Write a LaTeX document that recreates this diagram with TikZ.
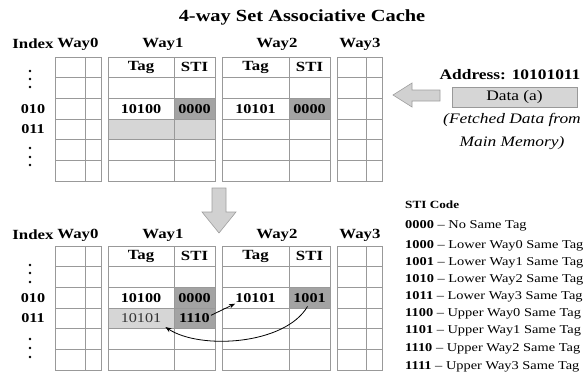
\documentclass[tikz,border=0pt]{standalone}
\usepackage{fontspec}
\setmainfont[FakeStretch=1.2]{Liberation Serif}
\usetikzlibrary{arrows.meta,calc}

% one way of the cache: a framed two-column block with six rows
\newcommand{\waybox}[4]{% left x, divider x, right x, top y
  \draw[gridline] (#1,#4) rectangle (#3,#4+124);
  \foreach \r in {1,...,5}
    \draw[gridline] (#1,#4+\r*20.667) -- (#3,#4+\r*20.667);
  \draw[gridline] (#2,#4) -- (#2,#4+124);
}
% the four ways side by side
\newcommand{\cacheset}[1]{%
  \waybox{55}{85}{101}{#1}
  \waybox{108}{174}{215}{#1}
  \waybox{222}{289}{330}{#1}
  \waybox{337}{366}{382}{#1}
}
% a column of three dots
\newcommand{\dotcol}[3]{%
  \fill (30,#1) circle (1.3);
  \fill (30,#2) circle (1.3);
  \fill (30,#3) circle (1.3);
}

\begin{document}
\begin{tikzpicture}[x=1pt,y=-1pt,
  gridline/.style={draw=black!40, line width=0.8pt},
  hdr/.style={font=\bfseries\fontsize{14}{16}\selectfont, inner sep=1pt},
  val/.style={font=\bfseries\fontsize{13.5}{16}\selectfont, inner sep=1pt},
  plainval/.style={font=\fontsize{13.5}{16}\selectfont, inner sep=1pt},
  darkcell/.style={fill=black!36},
  lightcell/.style={fill=black!16},
  blockarrow/.style={fill=black!18, draw=black!38, line width=0.6pt},
  legend/.style={font=\fontsize{12}{14}\selectfont, anchor=west, inner sep=0pt},
  link/.style={-{Stealth[length=6pt,width=4.5pt]}, line width=0.8pt},
]
\useasboundingbox (0,0) rectangle (584,376);

% title
\node[font=\bfseries\fontsize{17}{20}\selectfont] (title) at (302,17) {4-way Set Associative Cache};

% ---------------- upper cache state ----------------
\fill[darkcell] (174,98.33) rectangle (215,119);
\fill[darkcell] (289,98.33) rectangle (330,119);
\fill[lightcell] (108,119) rectangle (215,139.67);
\cacheset{57}

\node[hdr] (idxA) at (33,44) {Index};
\node[hdr] (w0A) at (78,44) {Way0};
\node[hdr] (w1A) at (163,44) {Way1};
\node[hdr] (w2A) at (277,44) {Way2};
\node[hdr] (w3A) at (360,44) {Way3};

\node[hdr] (tag1A) at (141,67.3) {Tag};
\node[hdr] (sti1A) at (194.5,67.3) {STI};
\node[hdr] (tag2A) at (255.5,67.3) {Tag};
\node[hdr] (sti2A) at (309.5,67.3) {STI};

\node[val] (r010A) at (33,108.7) {010};
\node[val] (r011A) at (33,129.3) {011};
\dotcol{71}{79}{87}
\dotcol{148}{157}{165}

\node[val] (t1A) at (141,108.7) {10100};
\node[val] (s1A) at (194.5,108.7) {0000};
\node[val] (t2A) at (255.5,108.7) {10101};
\node[val] (s2A) at (309.5,108.7) {0000};

% incoming data
\filldraw[blockarrow] (393,95) -- (412,83) -- (412,90) -- (440,90) -- (440,101)
  -- (412,101) -- (412,107) -- cycle;
\node[font=\bfseries\fontsize{14.5}{17}\selectfont] (addr) at (510,75) {Address: 10101011};
\node[draw=black!40, fill=black!16, line width=0.6pt, minimum width=125pt,
  minimum height=20pt, inner sep=0pt, font=\fontsize{14.5}{17}\selectfont] (data) at (514.5,97) {Data (a)};
\node[font=\itshape\fontsize{14.5}{23}\selectfont, align=center] (fetch) at (512,131.5)
  {(Fetched Data from\\Main Memory)};

% step down
\filldraw[blockarrow] (212,188) -- (226,188) -- (226,212) -- (236,212) -- (219,233)
  -- (202,212) -- (212,212) -- cycle;

% ---------------- lower cache state ----------------
\fill[darkcell] (174,287.33) rectangle (215,308);
\fill[darkcell] (289,287.33) rectangle (330,308);
\fill[lightcell] (108,308) rectangle (174,328.67);
\fill[darkcell] (174,308) rectangle (215,328.67);
\cacheset{246}

\node[hdr] (idxB) at (33,235) {Index};
\node[hdr] (w0B) at (78,235) {Way0};
\node[hdr] (w1B) at (163,235) {Way1};
\node[hdr] (w2B) at (277,235) {Way2};
\node[hdr] (w3B) at (360,235) {Way3};

\node[hdr] (tag1B) at (141,256.3) {Tag};
\node[hdr] (sti1B) at (194.5,256.3) {STI};
\node[hdr] (tag2B) at (255.5,256.3) {Tag};
\node[hdr] (sti2B) at (309.5,256.3) {STI};

\node[val] (r010B) at (33,297.7) {010};
\node[val] (r011B) at (33,318.3) {011};
\dotcol{265}{273}{282}
\dotcol{339}{348}{357}

\node[val] (t1B) at (141,297.7) {10100};
\node[val] (s1B) at (194.5,297.7) {0000};
\node[val] (t2B) at (255.5,297.7) {10101};
\node[val] (s2B) at (309.5,297.7) {1001};
\node[plainval, text=black!80] (t1C) at (141,318.3) {10101};
\node[val] (s1C) at (194.5,318.3) {1110};

% same-tag links
\draw[link] ($(s1C.east)+(0,-3)$) -- ($(t2B.west)+(1,6)$);
\draw[link] ($(s2B.south)+(-2,3)$) .. controls (285,345) and (200,350) .. ($(t1C.south east)+(3,3)$);

% ---------------- STI code legend ----------------
\node[legend, font=\bfseries\fontsize{11}{13}\selectfont] (lgT) at (405,205) {STI Code};
\node[legend] (lg0) at (405,226) {\textbf{0000} – No Same Tag};
\node[legend] (lg1) at (405,246) {\textbf{1000} – Lower Way0 Same Tag};
\node[legend] (lg2) at (405,263) {\textbf{1001} – Lower Way1 Same Tag};
\node[legend] (lg3) at (405,279.5) {\textbf{1010} – Lower Way2 Same Tag};
\node[legend] (lg4) at (405,296.5) {\textbf{1011} – Lower Way3 Same Tag};
\node[legend] (lg5) at (405,313.5) {\textbf{1100} – Upper Way0 Same Tag};
\node[legend] (lg6) at (405,331) {\textbf{1101} – Upper Way1 Same Tag};
\node[legend] (lg7) at (405,348.5) {\textbf{1110} – Upper Way2 Same Tag};
\node[legend] (lg8) at (405,367) {\textbf{1111} – Upper Way3 Same Tag};
\end{tikzpicture}
\end{document}
